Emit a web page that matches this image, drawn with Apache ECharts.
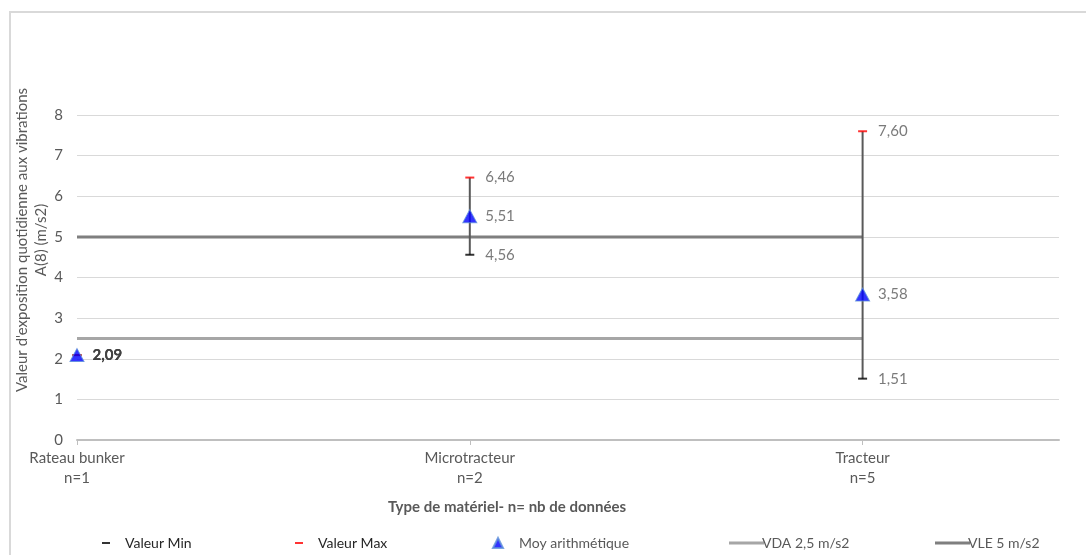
<!DOCTYPE html>
<html>
<head>
<meta charset="utf-8">
<script src="https://cdn.jsdelivr.net/npm/echarts@6/dist/echarts.min.js"></script>
<style>
  html, body { margin: 0; padding: 0; background: #fff; }
  #chartWrap { width: 1086px; height: 555px; }
</style>
</head>
<body>
<div id="chartWrap"></div>
<script>
// données
var categories = ['Rateau bunker\nn=1', 'Microtracteur\nn=2', 'Tracteur\nn=5'];
var minValues = [2.09, 4.56, 1.51];
var maxValues = [2.09, 6.46, 7.60];
var meanValues = [2.09, 5.51, 3.58];
var vdaValue = 2.5;
var vleValue = 5;
var yTicks = [0, 1, 2, 3, 4, 5, 6, 7, 8];

var textColor = '#595959';
var fontName = 'Lato, "Open Sans", sans-serif';

function fr(v) {
    return v.toFixed(2).replace('.', ',');
}
function pts(arr) {
    var out = [];
    for (var i = 0; i < arr.length; i++) {
        out.push([i, arr[i]]);
    }
    return out;
}
// étiquette en gras quand une seule donnée (n=1)
function lbl(p) {
    if (p.dataIndex === 0) {
        return '{b|' + fr(p.value[1]) + '}';
    }
    return fr(p.value[1]);
}
var boldRich = { b: { fontWeight: 'bold', color: '#404040', fontSize: 15 } };

var errData = [];
for (var i = 0; i < categories.length; i++) {
    errData.push([i, minValues[i], maxValues[i]]);
}
var last = categories.length - 1;

var dom = document.getElementById('chartWrap');
var myChart = echarts.init(dom);
var option = {
    backgroundColor: '#fff',
    textStyle: { fontFamily: fontName },
    animation: false,
    grid: { left: 77, right: 27, top: 115, bottom: 115 },
    legend: [
        { left: 97, top: 531, icon: 'rect', itemWidth: 8, itemHeight: 2, data: ['Valeur Min'],
          textStyle: { color: '#262626', fontSize: 14, padding: [0, 0, 0, 10] } },
        { left: 290, top: 531, icon: 'rect', itemWidth: 8, itemHeight: 2, data: ['Valeur Max'],
          textStyle: { color: '#262626', fontSize: 14, padding: [0, 0, 0, 10] } },
        { left: 487, top: 531, icon: 'triangle', itemWidth: 10, itemHeight: 10, data: ['Moy arithmétique'],
          textStyle: { color: textColor, fontSize: 14, padding: [0, 0, 0, 11] } },
        { left: 724, top: 531, icon: 'rect', itemWidth: 35, itemHeight: 3, data: ['VDA 2,5 m/s2'],
          textStyle: { color: textColor, fontSize: 14, padding: [0, 0, 0, -7] } },
        { left: 930, top: 531, icon: 'rect', itemWidth: 35, itemHeight: 3, data: ['VLE 5 m/s2'],
          textStyle: { color: textColor, fontSize: 14, padding: [0, 0, 0, -7] } }
    ],
    xAxis: {
        type: 'value',
        min: 0,
        max: 2.5,
        splitLine: { show: false },
        axisLine: { show: true, lineStyle: { color: '#bfbfbf', width: 2 } },
        axisTick: { show: true, inside: false, length: 5, customValues: [0, 1, 2],
                    lineStyle: { color: '#bfbfbf', width: 1 } },
        axisLabel: {
            customValues: [0, 1, 2],
            color: textColor,
            fontSize: 15,
            lineHeight: 20,
            margin: 8,
            formatter: function (v) { return categories[Math.round(v)] || ''; }
        }
    },
    yAxis: {
        type: 'value',
        min: 0,
        max: 8,
        interval: 1,
        axisLine: { show: false },
        axisTick: { show: false },
        axisLabel: { color: textColor, fontSize: 15, margin: 14,
                     formatter: function (v) { return yTicks.indexOf(v) >= 0 ? String(v) : ''; } },
        splitLine: { lineStyle: { color: '#d9d9d9', width: 1 } }
    },
    graphic: [
        { type: 'rect', silent: true, shape: { x: 10, y: 12, width: 1200, height: 700 },
          style: { fill: 'none', stroke: '#d9d9d9', lineWidth: 2 } },
        { type: 'text', silent: true, x: 32, y: 240, rotation: Math.PI / 2,
          style: { text: "Valeur d'exposition quotidienne aux vibrations\nA(8) (m/s2)",
                   fill: textColor, font: '15px ' + fontName, align: 'center',
                   verticalAlign: 'middle', lineHeight: 19 } },
        { type: 'text', silent: true, x: 507, y: 507,
          style: { text: 'Type de matériel- n= nb de données', fill: textColor,
                   font: 'bold 15px ' + fontName, align: 'center', verticalAlign: 'middle' } }
    ],
    series: [
        {
            name: 'VDA 2,5 m/s2', type: 'line', symbol: 'none', z: 2,
            itemStyle: { color: '#a6a6a6' },
            lineStyle: { color: '#a6a6a6', width: 3 },
            data: [[0, vdaValue], [last, vdaValue]]
        },
        {
            name: 'VLE 5 m/s2', type: 'line', symbol: 'none', z: 2,
            itemStyle: { color: '#7f7f7f' },
            lineStyle: { color: '#7f7f7f', width: 3 },
            data: [[0, vleValue], [last, vleValue]]
        },
        {
            name: 'barres', type: 'custom', z: 3,
            renderItem: function (params, api) {
                var p1 = api.coord([api.value(0), api.value(1)]);
                var p2 = api.coord([api.value(0), api.value(2)]);
                return { type: 'line', shape: { x1: p1[0], y1: p1[1], x2: p2[0], y2: p2[1] },
                         style: { stroke: '#595959', lineWidth: 2 } };
            },
            encode: { x: 0, y: [1, 2] },
            data: errData
        },
        {
            name: 'Valeur Min', type: 'scatter', symbol: 'rect', symbolSize: [9, 2], z: 4,
            itemStyle: { color: '#000' },
            label: { show: true, position: 'right', distance: 11, color: textColor, fontSize: 15,
                     formatter: lbl, rich: boldRich },
            data: pts(minValues)
        },
        {
            name: 'Valeur Max', type: 'scatter', symbol: 'rect', symbolSize: [9, 2], z: 4,
            itemStyle: { color: '#ff0000' },
            label: { show: true, position: 'right', distance: 11, color: textColor, fontSize: 15,
                     formatter: lbl, rich: boldRich },
            data: pts(maxValues)
        },
        {
            name: 'Moy arithmétique', type: 'scatter', symbol: 'triangle', symbolSize: [14, 13], z: 5,
            itemStyle: { color: '#0000ff', borderColor: '#5b8fd9', borderWidth: 1 },
            label: { show: true, position: 'right', distance: 8, color: textColor, fontSize: 15,
                     formatter: lbl, rich: boldRich },
            data: pts(meanValues)
        }
    ]
};
if (option && typeof option === "object") {
    myChart.setOption(option, true);
}
</script>
</body>
</html>
